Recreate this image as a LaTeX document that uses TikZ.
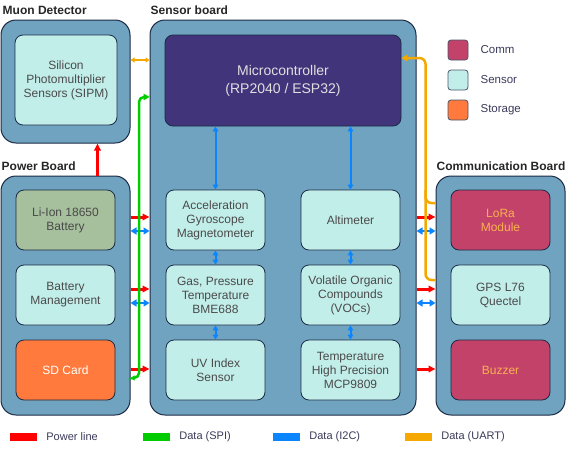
\documentclass[tikz,border=0pt]{standalone}
\usepackage{fontspec}
\setmainfont{Liberation Sans}
\usetikzlibrary{arrows.meta,positioning}
\definecolor{boardblue}{HTML}{6FA3BF}
\definecolor{edgenavy}{HTML}{1C2B45}
\definecolor{sensorcyan}{HTML}{C2EEEA}
\definecolor{mcupurple}{HTML}{41347A}
\definecolor{commred}{HTML}{C3426A}
\definecolor{commtext}{HTML}{F7B24F}
\definecolor{storeorange}{HTML}{FF7A3C}
\definecolor{battgreen}{HTML}{A6BF9C}
\definecolor{pwrred}{HTML}{FF0000}
\definecolor{spigreen}{HTML}{00CC00}
\definecolor{ictblue}{HTML}{0A84FF}
\definecolor{uartorange}{HTML}{F5A800}
\definecolor{txtgray}{HTML}{4A4A4A}
\definecolor{legtxt}{HTML}{3A3A5A}
\tikzset{
  board/.style={draw=edgenavy,fill=boardblue,line width=1pt,rounded corners=15pt,inner sep=0pt},
  part/.style={draw=edgenavy,fill=sensorcyan,line width=.8pt,rounded corners=8pt,
    minimum width=99pt,minimum height=60pt,align=center,text=txtgray,
    font=\fontsize{12}{14}\selectfont},
  comm/.style={part,fill=commred,text=commtext},
  title/.style={inner sep=0pt,text=black!85,font=\fontsize{12}{14}\selectfont\bfseries},
  pwrline/.style={pwrred,line width=3pt,-{Triangle[length=7pt,width=6.5pt]}},
  i2c/.style={ictblue,line width=2.5pt,{Triangle[length=6pt,width=7pt]}-{Triangle[length=6pt,width=7pt]}},
  spi/.style={spigreen,line width=2.5pt,rounded corners=5pt},
  uart/.style={uartorange,line width=2.5pt,rounded corners=6pt},
  legbar/.style={minimum width=27pt,minimum height=8pt,inner sep=0pt},
  legbox/.style={draw=edgenavy!80,line width=.8pt,rounded corners=3pt,minimum size=20pt,inner sep=0pt},
  legtext/.style={inner sep=0pt,text=legtxt,font=\fontsize{11.5}{14}\selectfont}
}
\begin{document}
\begin{tikzpicture}[x=1pt,y=-1pt]
  \useasboundingbox (0,0) rectangle (566,448);
  % boards
  \node[board,minimum width=129pt,minimum height=123pt] (muon) at (65.5,81.5) {};
  \node[board,minimum width=266pt,minimum height=395pt] (sens) at (283,217.5) {};
  \node[board,minimum width=129pt,minimum height=239pt] (pwr) at (65.5,295.5) {};
  \node[board,minimum width=129pt,minimum height=239pt] (comb) at (500.5,295.5) {};
  \node[title,above right=5pt and 2pt of muon.north west] {Muon Detector};
  \node[title,above right=5pt and 1pt of sens.north west] {Sensor board};
  \node[title,above right=5pt and 1pt of pwr.north west] {Power Board};
  \node[title,above right=5pt and 1pt of comb.north west] {Communication Board};
  % parts
  \node[part,minimum width=102pt,minimum height=90pt] (sipm) at (66,80)
    {Silicon\\Photomultiplier\\Sensors (SIPM)};
  \node[part,fill=mcupurple,text=white!88!black,minimum width=236pt,minimum height=91pt,
    font=\fontsize{14}{18}\selectfont] (mcu) at (283,80.5) {Microcontroller\\(RP2040 / ESP32)};
  \node[part] (accel) at (215.5,220) {Acceleration\\Gyroscope\\Magnetometer};
  \node[part] (gas) at (215.5,295) {Gas, Pressure\\Temperature\\BME688};
  \node[part] (uv) at (215.5,370) {UV Index\\Sensor};
  \node[part] (alti) at (350.5,220) {Altimeter};
  \node[part] (voc) at (350.5,295) {Volatile Organic\\Compounds\\(VOCs)};
  \node[part] (temp) at (350.5,370) {Temperature\\High Precision\\MCP9809};
  \node[part,fill=battgreen] (batt) at (65.5,220) {Li-Ion 18650\\Battery};
  \node[part] (bms) at (65.5,295) {Battery\\Management};
  \node[part,fill=storeorange,text=white] (sd) at (65.5,370) {SD Card};
  \node[comm] (lora) at (500.5,220) {LoRa\\Module};
  \node[part] (gps) at (500.5,295) {GPS L76\\Quectel};
  \node[comm] (buzz) at (500.5,370) {Buzzer};
  % i2c inside sensor board
  \draw[i2c,line width=2pt,{Triangle[length=5pt,width=5.5pt]}-{Triangle[length=5pt,width=5.5pt]}]
    (accel.north) -- (accel.north |- mcu.south);
  \draw[i2c,line width=2pt,{Triangle[length=5pt,width=5.5pt]}-{Triangle[length=5pt,width=5.5pt]}]
    (alti.north) -- (alti.north |- mcu.south);
  \foreach \a/\b in {accel/gas,gas/uv,alti/voc,voc/temp}
    \draw[i2c,line width=2pt,{Triangle[length=5pt,width=5.5pt]}-{Triangle[length=5pt,width=5.5pt]}]
      (\a.south) -- (\b.north);
  % between boards
  \draw[pwrline] (97.5,0 |- pwr.north) -- (97.5,0 |- muon.south);
  \foreach \y in {217,289,369}{
    \draw[pwrline] (pwr.east |- 0,\y) -- (sens.west |- 0,\y);
    \draw[pwrline] (sens.east |- 0,\y) -- (comb.west |- 0,\y);
  }
  \foreach \y in {231,303}{
    \draw[i2c] (pwr.east |- 0,\y) -- (sens.west |- 0,\y);
    \draw[i2c] (sens.east |- 0,\y) -- (comb.west |- 0,\y);
  }
  \draw[uart,line width=2pt,{Triangle[length=4pt,width=5pt]}-{Triangle[length=4pt,width=5pt]}]
    (muon.east |- 0,60) -- (sens.west |- 0,60);
  \draw[spi,{Triangle[length=4pt,width=5pt]}-{Triangle[length=6pt,width=6.5pt]}]
    (pwr.east |- 0,378) -| (139,97) -- (sens.west |- 0,97);
  \draw[uart,{Triangle[length=6pt,width=6.5pt]}-] (mcu.east |- 0,58) -| (425.5,280)
    -- (comb.west |- 0,280);
  \draw[uart] (425.5,190) |- (comb.west |- 0,203);
  % legend
  \foreach \c/\t/\y in {commred/Comm/50,sensorcyan/Sensor/80,storeorange/Storage/110}{
    \node[legbox,fill=\c] (key\t) at (458,\y) {};
    \node[legtext,right=12pt of key\t] {\t};
  }
  \foreach \c/\t/\x in {pwrred/Power line/10,spigreen/Data (SPI)/143,ictblue/Data (I2C)/273,uartorange/Data (UART)/405}{
    \node[legbar,fill=\c] (bar\x) at (\x+13.5,437) {};
    \node[legtext,right=9pt of bar\x,font=\fontsize{11}{14}\selectfont] {\t};
  }
\end{tikzpicture}
\end{document}
